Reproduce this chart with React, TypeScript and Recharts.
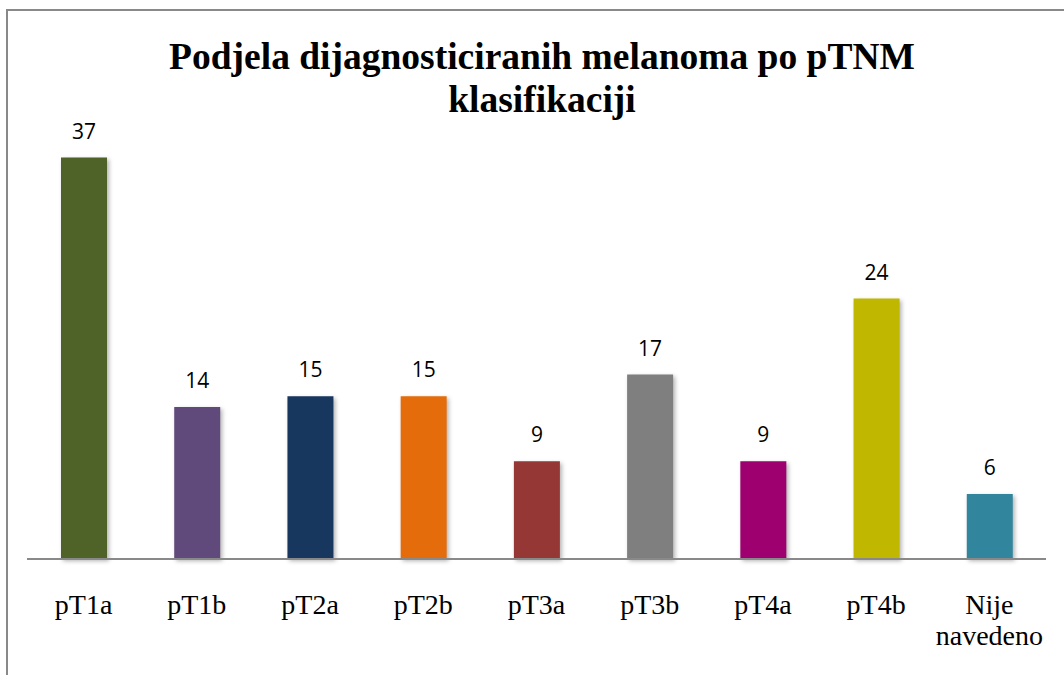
import React from 'react';
import { BarChart, Bar, XAxis, YAxis, Cell, LabelList } from 'recharts';

const categories = ['pT1a', 'pT1b', 'pT2a', 'pT2b', 'pT3a', 'pT3b', 'pT4a', 'pT4b', 'Nije navedeno'];
const counts = [37, 14, 15, 15, 9, 17, 9, 24, 6];
const barColors = ['#4F6228', '#604A7B', '#17375E', '#E46C0A', '#953735', '#7F7F7F', '#9E0070', '#BFB700', '#31859C'];

const data = categories.map((name, i) => ({ name, value: counts[i] }));

const CategoryTick = (props: any) => {
  const { x, y, payload } = props;
  const lines = String(payload.value).split(' ');
  return (
    <text
      x={x}
      y={y}
      textAnchor="middle"
      fill="#000"
      fontFamily="'Liberation Serif', 'Times New Roman', serif"
      fontSize={28}
    >
      {lines.map((line, i) => (
        <tspan key={line} x={x} dy={i === 0 ? 47 : 31}>
          {line}
        </tspan>
      ))}
    </text>
  );
};

const App: React.FC = () => {
  return (
    <div style={{ position: 'absolute', left: 0, top: 0, width: 1064, height: 675, overflow: 'hidden', background: '#fff' }}>
      <div
        style={{
          position: 'absolute',
          left: 6,
          top: 9,
          width: 1080,
          height: 690,
          border: '2px solid #898989',
        }}
      />
      <div
        style={{
          position: 'absolute',
          left: 0,
          top: 35,
          width: 1084,
          textAlign: 'center',
          fontFamily: "'Liberation Serif', 'Times New Roman', serif",
          fontWeight: 'bold',
          fontSize: 37.5,
          lineHeight: '43px',
          color: '#000',
        }}
      >
        Podjela dijagnosticiranih melanoma po pTNM
        <br />
        klasifikaciji
      </div>
      <div style={{ position: 'absolute', left: 0, top: 0 }}>
        <BarChart
          width={1064}
          height={675}
          data={data}
          margin={{ top: 125, right: 18, bottom: 0, left: 27 }}
          barSize={46}
        >
          <XAxis
            dataKey="name"
            axisLine={{ stroke: '#898989', strokeWidth: 2 }}
            tickLine={false}
            tick={<CategoryTick />}
            height={116}
            interval={0}
          />
          <YAxis hide domain={[0, 40]} />
          <Bar dataKey="value" isAnimationActive={false} style={{ filter: 'drop-shadow(2px 2px 2px rgba(0,0,0,0.3))' }}>
            {data.map((d, i) => (
              <Cell key={d.name} fill={barColors[i]} />
            ))}
            <LabelList
              dataKey="value"
              position="top"
              offset={19}
              fill="#000"
              fontFamily="'Open Sans', sans-serif"
              fontSize={21}
            />
          </Bar>
        </BarChart>
      </div>
    </div>
  );
};

export default App;
